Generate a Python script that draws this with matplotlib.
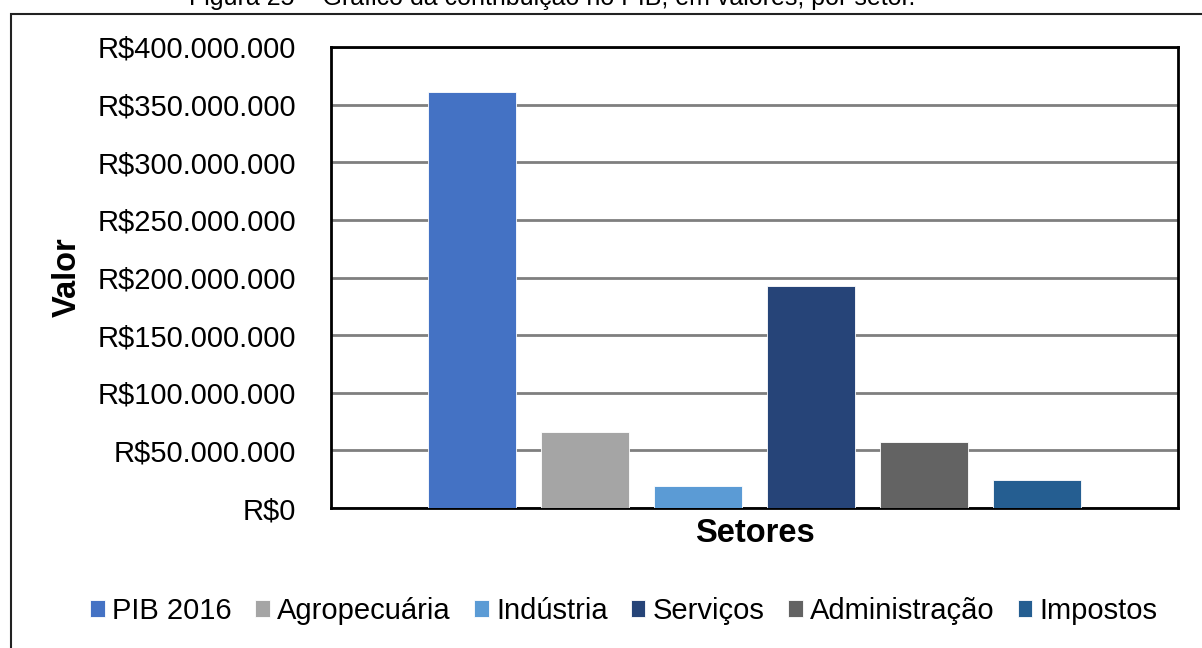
import matplotlib
matplotlib.use("Agg")
import matplotlib.pyplot as plt
import numpy as np
from matplotlib.ticker import FuncFormatter
from matplotlib.patches import Rectangle

plt.rcParams['font.family'] = ['Liberation Sans', 'DejaVu Sans']

setores = ["PIB 2016", "Agropecuária", "Indústria", "Serviços", "Administração", "Impostos"]
valores = [361_000_000, 65_800_000, 19_000_000, 193_000_000, 57_700_000, 24_000_000]
cores = ["#4472C4", "#A5A5A5", "#5B9BD5", "#264478", "#636363", "#255E91"]


def reais(v, pos):
    return "R$" + f"{int(v):,}".replace(",", ".")


fig = plt.figure(figsize=(12.02, 6.48), dpi=100)

# moldura externa e legenda da figura (cortada no topo)
fig.patches.append(Rectangle((11 / 1202, -0.1), 1.2, 1 - 14 / 648 + 0.1,
                             transform=fig.transFigure, fill=False,
                             edgecolor="#222222", linewidth=1.5))
fig.text(552 / 1202, 1 - 5 / 648,
         "Figura 25 – Gráfico da contribuição no PIB, em valores, por setor.",
         ha="center", va="baseline", fontsize=18)

ax = fig.add_axes([331 / 1202, 1 - 508 / 648, 847 / 1202, 461 / 648])
pos = np.arange(len(setores))
barras = ax.bar(pos, valores, width=0.78, color=cores, edgecolor="white",
                linewidth=0.6, zorder=3)

ax.set_xlim(-1.25, 6.25)
ax.set_ylim(0, 400_000_000)
ax.set_yticks(np.arange(0, 400_000_001, 50_000_000))
ax.yaxis.set_major_formatter(FuncFormatter(reais))
ax.set_xticks([])
ax.tick_params(axis="y", length=0, pad=25, labelsize=21)
ax.grid(axis="y", color="#7f7f7f", linewidth=2, zorder=0)
for s in ax.spines.values():
    s.set_linewidth(2)
    s.set_color("black")

ax.set_xlabel("Setores", fontsize=23.5, fontweight="bold", labelpad=7)
fig.text(67 / 1202, 1 - 277 / 648, "Valor", rotation=90, ha="center",
         va="center", fontsize=23.5, fontweight="bold")

fig.legend(barras, setores, loc="center", bbox_to_anchor=(624 / 1202, 1 - 611 / 648),
           ncol=6, frameon=False, fontsize=21, handlelength=0.5, handleheight=0.5,
           handletextpad=0.25, columnspacing=0.8, borderaxespad=0)

fig.savefig("out.png", dpi=100)
